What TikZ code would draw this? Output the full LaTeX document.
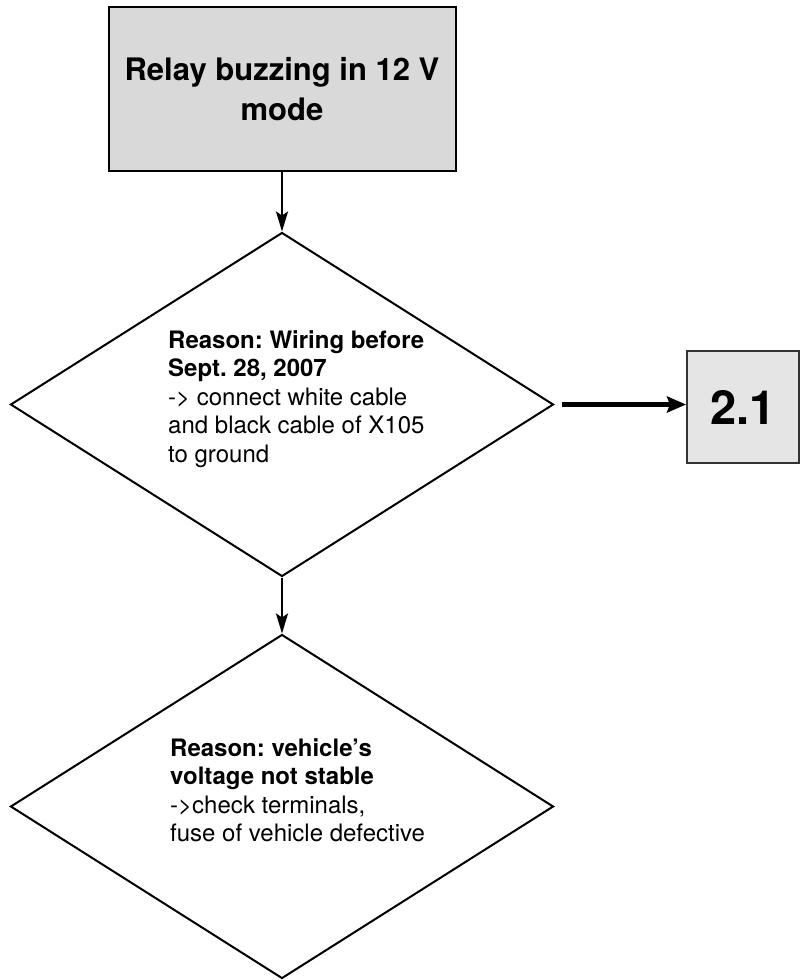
\documentclass[tikz,border=0pt]{standalone}
\usepackage{fontspec}
\setmainfont{TeX Gyre Heros}
\usetikzlibrary{shapes.geometric}
\usetikzlibrary{arrows.meta}
\frenchspacing

\begin{document}
\begin{tikzpicture}[
  x=1pt, y=-1pt,
  titlebox/.style={draw, line width=2pt, fill=black!15, minimum width=347pt, minimum height=164pt, align=center, font=\fontsize{31}{40}\selectfont\bfseries},
  decision/.style={draw, diamond, line width=2pt, minimum width=543pt, minimum height=344pt, inner sep=0pt},
  reason/.style={anchor=north west, inner sep=0pt, align=left, font=\fontsize{24}{28.5}\selectfont},
  jumpbox/.style={draw=black!80, line width=2pt, fill=black!10, minimum width=112pt, minimum height=112pt, font=\fontsize{47}{50}\selectfont\bfseries},
  flowarrow/.style={line width=2.5pt, -{Stealth[length=20pt, width=12pt, inset=4pt]}},
  jumparrow/.style={line width=4.5pt, -{Stealth[length=19pt, width=16pt, inset=3pt]}, shorten <=7pt}
]
\useasboundingbox (0,0) rectangle (801,980);
\node[titlebox] (relay)   at (282, 89)    {Relay buzzing in 12 V\\mode};
\node[decision] (wiring)  at (282, 404.5) {};
\node[decision] (voltage) at (282, 806.5) {};
\node[jumpbox]  (goto)    at (743, 407)   {2.1};

\node[reason] (wiringtext)  at (168, 330) {\textbf{Reason: Wiring before}\\\textbf{Sept. 28, 2007}\\-> connect white cable\\and black cable of X105\\to ground};
\node[reason] (voltagetext) at (170, 738) {\textbf{Reason: vehicle’s}\\\textbf{voltage not stable}\\->check terminals,\\fuse of vehicle defective};

\draw[flowarrow] (relay) -- (wiring);
\draw[flowarrow] (wiring) -- (voltage);
\draw[jumparrow] (wiring.east) -- (wiring.east -| goto.west);
\end{tikzpicture}
\end{document}
